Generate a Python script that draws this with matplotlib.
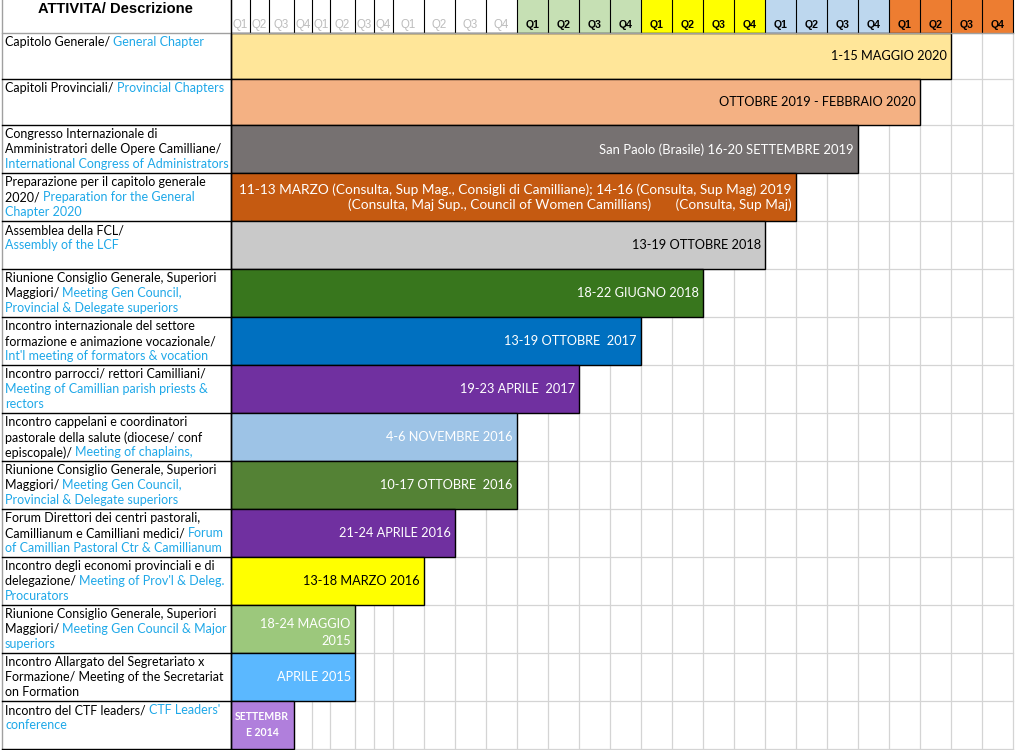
import matplotlib
matplotlib.use('Agg')
import matplotlib.pyplot as plt
from matplotlib.patches import Rectangle

# header: years and quarters (only quarters are printed)
years = ['2014', '2015', '2016', '2017', '2018', '2019', '2020']
quarters = ['Q1', 'Q2', 'Q3', 'Q4']
year_fill = [None, None, None, '#C6E0B4', '#FFFF00', '#BDD7EE', '#ED7D31']

header_title = 'ATTIVITA/ Descrizione'

# description column, '|' splits black italian part from blue english part
desc_lines = [
    ["Capitolo Generale/ |General Chapter"],
    ["Capitoli Provinciali/ |Provincial Chapters"],
    ["Congresso Internazionale di", "Amministratori delle Opere Camilliane/",
     "|International Congress of Administrators"],
    ["Preparazione per il capitolo generale", "2020/ |Preparation for the General",
     "|Chapter 2020"],
    ["Assemblea della FCL/", "|Assembly of the LCF"],
    ["Riunione Consiglio Generale, Superiori", "Maggiori/ |Meeting Gen Council,",
     "|Provincial & Delegate superiors"],
    ["Incontro internazionale del settore", "formazione e animazione vocazionale/",
     "|Int'l meeting of formators & vocation"],
    ["Incontro parrocci/ rettori Camilliani/", "|Meeting of Camillian parish priests &",
     "|rectors"],
    ["Incontro cappelani e coordinatori", "pastorale della salute (diocese/ conf",
     "episcopale)/ |Meeting of chaplains,"],
    ["Riunione Consiglio Generale, Superiori", "Maggiori/ |Meeting Gen Council,",
     "|Provincial & Delegate superiors"],
    ["Forum Direttori dei centri pastorali,", "Camillianum e Camilliani medici/ |Forum",
     "|of Camillian Pastoral Ctr & Camillianum"],
    ["Incontro degli economi provinciali e di", "delegazione/ |Meeting of Prov'l & Deleg.",
     "|Procurators"],
    ["Riunione Consiglio Generale, Superiori", "Maggiori/ |Meeting Gen Council & Major",
     "|superiors"],
    ["Incontro Allargato del Segretariato x", "Formazione/ Meeting of the Secretariat",
     "on Formation"],
    ["Incontro del CTF leaders/ |CTF Leaders'", "|conference"],
]

# every bar runs from the start of 2014 up to the end of this quarter
end_year = ['2020', '2020', '2019', '2019', '2018', '2018', '2017', '2017',
            '2016', '2016', '2016', '2016', '2015', '2015', '2014']
end_q = ['Q2', 'Q1', 'Q3', 'Q1', 'Q4', 'Q2', 'Q4', 'Q2',
         'Q4', 'Q4', 'Q2', 'Q1', 'Q2', 'Q2', 'Q3']

bar_labels = [
    "1-15 MAGGIO 2020",
    "OTTOBRE 2019 - FEBBRAIO 2020",
    "San Paolo (Brasile) 16-20 SETTEMBRE 2019",
    "11-13 MARZO (Consulta, Sup Mag., Consigli di Camilliane); 14-16 (Consulta, Sup Mag) 2019\n"
    "(Consulta, Maj Sup., Council of Women Camillians)       (Consulta, Sup Maj)",
    "13-19 OTTOBRE 2018",
    "18-22 GIUGNO 2018",
    "13-19 OTTOBRE  2017",
    "19-23 APRILE  2017",
    "4-6 NOVEMBRE 2016",
    "10-17 OTTOBRE  2016",
    "21-24 APRILE 2016",
    "13-18 MARZO 2016",
    "18-24 MAGGIO\n2015",
    "APRILE 2015",
    "SETTEMBR\nE 2014",
]
bar_colors = ['#FFE699', '#F4B183', '#767171', '#C55A11', '#C9C9C9', '#38761D',
              '#0070C0', '#7030A0', '#9DC3E6', '#548235', '#7030A0', '#FFFF00',
              '#9CC87C', '#5BB8FF', '#B07FDC']
label_colors = ['black', 'black', 'white', 'white', 'black', 'white', 'white',
                'white', 'white', 'white', 'white', 'black', 'white', 'white', 'white']

# layout (pixels)
W, H = 1017, 750
left_w = 230.7
header_h = 33.3
q_widths = [19, 19, 25, 18, 18, 25, 19, 19] + [31] * 20
row_heights = [46, 46] + [48] * 13
BLUE = '#1FA8E8'
CAL = ['Lato', 'DejaVu Sans']
ARI = ['Liberation Sans', 'DejaVu Sans']
DESC_FS = 9.0

fig = plt.figure(figsize=(W / 100, H / 100), dpi=100)
ax = fig.add_axes([0, 0, 1, 1])
ax.set_xlim(0, W)
ax.set_ylim(H, 0)
ax.axis('off')

q_edges = [left_w]
for w in q_widths:
    q_edges.append(q_edges[-1] + w)
row_edges = [header_h]
for h in row_heights:
    row_edges.append(row_edges[-1] + h)
x_end = q_edges[-1]

# light grid of the chart area
for x in q_edges:
    ax.plot([x, x], [header_h, H], color='#D4D4D4', lw=0.9, zorder=1)
for y in row_edges:
    ax.plot([left_w, x_end], [y, y], color='#D4D4D4', lw=0.9, zorder=1)

# header
for yi, yr in enumerate(years):
    x0 = q_edges[yi * 4]
    x1 = q_edges[yi * 4 + 4]
    if year_fill[yi]:
        ax.add_patch(Rectangle((x0, 0), x1 - x0, header_h, facecolor=year_fill[yi],
                               edgecolor='none', zorder=2))
    for qi, q in enumerate(quarters):
        k = yi * 4 + qi
        xc = (q_edges[k] + q_edges[k + 1]) / 2
        if year_fill[yi]:
            ax.text(xc, 25, q, ha='center', va='center', fontsize=7.6,
                    fontweight='bold', color='black', family=ARI, zorder=4)
        else:
            ax.text(xc, 25, q, ha='center', va='center', fontsize=8.3,
                    color='#BDBDBD', family=ARI, zorder=4)
for x in q_edges:
    ax.plot([x, x], [0, header_h], color='black', lw=0.8, zorder=3)
ax.text(left_w / 2, 9, header_title, ha='center', va='center', fontsize=10.6,
        fontweight='bold', family=ARI, zorder=4)
ax.plot([2, x_end], [header_h, header_h], color='#A0A0A0', lw=1, zorder=3)

# bars
idx = {(y, q): i for i, (y, q) in enumerate((y, q) for y in years for q in quarters)}
for i in range(len(bar_labels)):
    y0, y1 = row_edges[i], row_edges[i + 1]
    xe = q_edges[idx[(end_year[i], end_q[i])] + 1]
    ax.add_patch(Rectangle((left_w, y0), xe - left_w, y1 - y0, facecolor=bar_colors[i],
                           edgecolor='black', lw=1.0, zorder=2))
    if i == 14:
        ax.text((left_w + xe) / 2, (y0 + y1) / 2 - 1, bar_labels[i], ha='center',
                va='center', fontsize=7.6, fontweight='bold', color=label_colors[i],
                family=CAL, linespacing=1.5, zorder=4)
    elif i == 3:
        ax.text(xe - 4, y0 + 24, bar_labels[i], ha='right', va='center',
                multialignment='right', fontsize=9.8, color=label_colors[i],
                family=CAL, linespacing=1.2, zorder=4)
    elif i == 12:
        ax.text(xe - 4, (y0 + y1) / 2 + 3, bar_labels[i], ha='right', va='center',
                multialignment='right', fontsize=9.2, color=label_colors[i],
                family=CAL, linespacing=1.5, zorder=4)
    else:
        fs = 9.4 if i == 2 else 9.2
        ax.text(xe - 4, (y0 + y1) / 2, bar_labels[i], ha='right', va='center',
                fontsize=fs, color=label_colors[i], family=CAL, zorder=4)

# description column
ax.plot([left_w, left_w], [0, H], color='black', lw=1.0, zorder=3)
ax.plot([2, 2], [0, H], color='#A0A0A0', lw=1.0, zorder=3)
for y in row_edges[1:]:
    ax.plot([2, left_w], [y, y], color='black', lw=1.0, zorder=3)

renderer = fig.canvas.get_renderer()
for i, lines in enumerate(desc_lines):
    y0 = row_edges[i]
    for j, line in enumerate(lines):
        yc = y0 + 9 + j * 15
        black, _, blue = line.partition('|')
        if black:
            ax.text(5, yc, black, ha='left', va='center', fontsize=DESC_FS,
                    color='black', family=CAL, zorder=4)
        if not blue:
            continue
        full = ax.text(5, yc, black + blue, ha='left', va='center', fontsize=DESC_FS,
                       family=CAL)
        wfull = full.get_window_extent(renderer).width
        full.remove()
        ax.text(5 + wfull, yc, blue, ha='right', va='center', fontsize=DESC_FS,
                color=BLUE, family=CAL, zorder=4)

fig.savefig('out.png', dpi=100)
